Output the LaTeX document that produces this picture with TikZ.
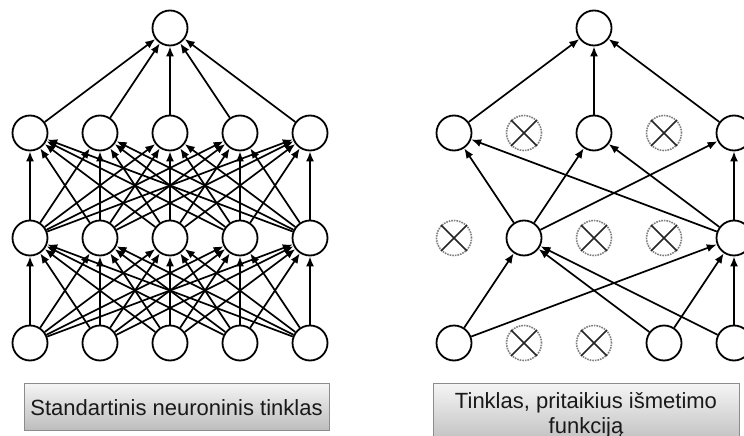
\documentclass[tikz,border=0pt]{standalone}
\usepackage{fontspec}
\setmainfont{Liberation Sans}
\usetikzlibrary{arrows.meta}
\begin{document}
\begin{tikzpicture}[x=1pt,y=-1pt,
  neuron/.style={circle,draw=black,line width=1.8pt,minimum size=35pt,inner sep=0pt,fill=white},
  dropped/.style={circle,draw=black!50,densely dotted,line width=1.6pt,minimum size=35pt,inner sep=0pt},
  cross/.style={draw=black!85,line width=1.6pt},
  link/.style={draw=black,line width=1.7pt,-{Latex[length=10pt,width=8pt]}},
  caption/.style={draw=black!45,line width=0.9pt,top color=black!4,bottom color=black!26,inner sep=0pt},
  captext/.style={font=\fontsize{22}{25}\selectfont,inner sep=0pt,align=center,text=black!90}
]
\clip (0,0) rectangle (744,436);
\fill[white] (0,0) rectangle (744,436);

% ---------- standard network: 5-5-5-1, fully connected ----------
\foreach \i/\x in {1/30,2/100,3/170,4/240,5/310} {
  \node[neuron] (La\i) at (\x,343) {};
  \node[neuron] (Lb\i) at (\x,238) {};
  \node[neuron] (Lc\i) at (\x,133) {};
}
\node[neuron] (Lo) at (170,28) {};
\foreach \i in {1,...,5} {
  \foreach \j in {1,...,5} {
    \draw[link] (La\i) -- (Lb\j);
    \draw[link] (Lb\i) -- (Lc\j);
  }
  \draw[link] (Lc\i) -- (Lo);
}

% ---------- thinned network after dropout ----------
% input layer
\node[neuron]  (Ra1) at (454,343) {};
\node[dropped] (Ra2) at (524,343) {};
\node[dropped] (Ra3) at (594,343) {};
\node[neuron]  (Ra4) at (664,343) {};
\node[neuron]  (Ra5) at (734,343) {};
% first hidden layer
\node[dropped] (Rb1) at (454,238) {};
\node[neuron]  (Rb2) at (524,238) {};
\node[dropped] (Rb3) at (594,238) {};
\node[dropped] (Rb4) at (664,238) {};
\node[neuron]  (Rb5) at (734,238) {};
% second hidden layer
\node[neuron]  (Rc1) at (454,133) {};
\node[dropped] (Rc2) at (524,133) {};
\node[neuron]  (Rc3) at (594,133) {};
\node[dropped] (Rc4) at (664,133) {};
\node[neuron]  (Rc5) at (734,133) {};
% output
\node[neuron]  (Ro) at (594,28) {};

% crosses in the dropped units
\foreach \n in {Ra2,Ra3,Rb1,Rb3,Rb4,Rc2,Rc4} {
  \draw[cross] (\n.north west) -- (\n.south east);
  \draw[cross] (\n.north east) -- (\n.south west);
}

% remaining connections
\foreach \i in {1,4,5} \foreach \j in {2,5} \draw[link] (Ra\i) -- (Rb\j);
\foreach \i in {2,5} \foreach \j in {1,3,5} \draw[link] (Rb\i) -- (Rc\j);
\foreach \i in {1,3,5} \draw[link] (Rc\i) -- (Ro);

% ---------- captions ----------
\node[caption,minimum width=305pt,minimum height=47pt,anchor=north west] (Lbox) at (24,383) {};
\node[captext,anchor=base] (Ltext) at (176.5,415) {Standartinis neuroninis tinklas};

\node[caption,minimum width=306pt,minimum height=62pt,anchor=north west] (Rbox) at (433,383) {};
\node[captext,anchor=north] (Rtext) at (586,392) {Tinklas, pritaikius išmetimo\\funkciją};
\end{tikzpicture}
\end{document}
